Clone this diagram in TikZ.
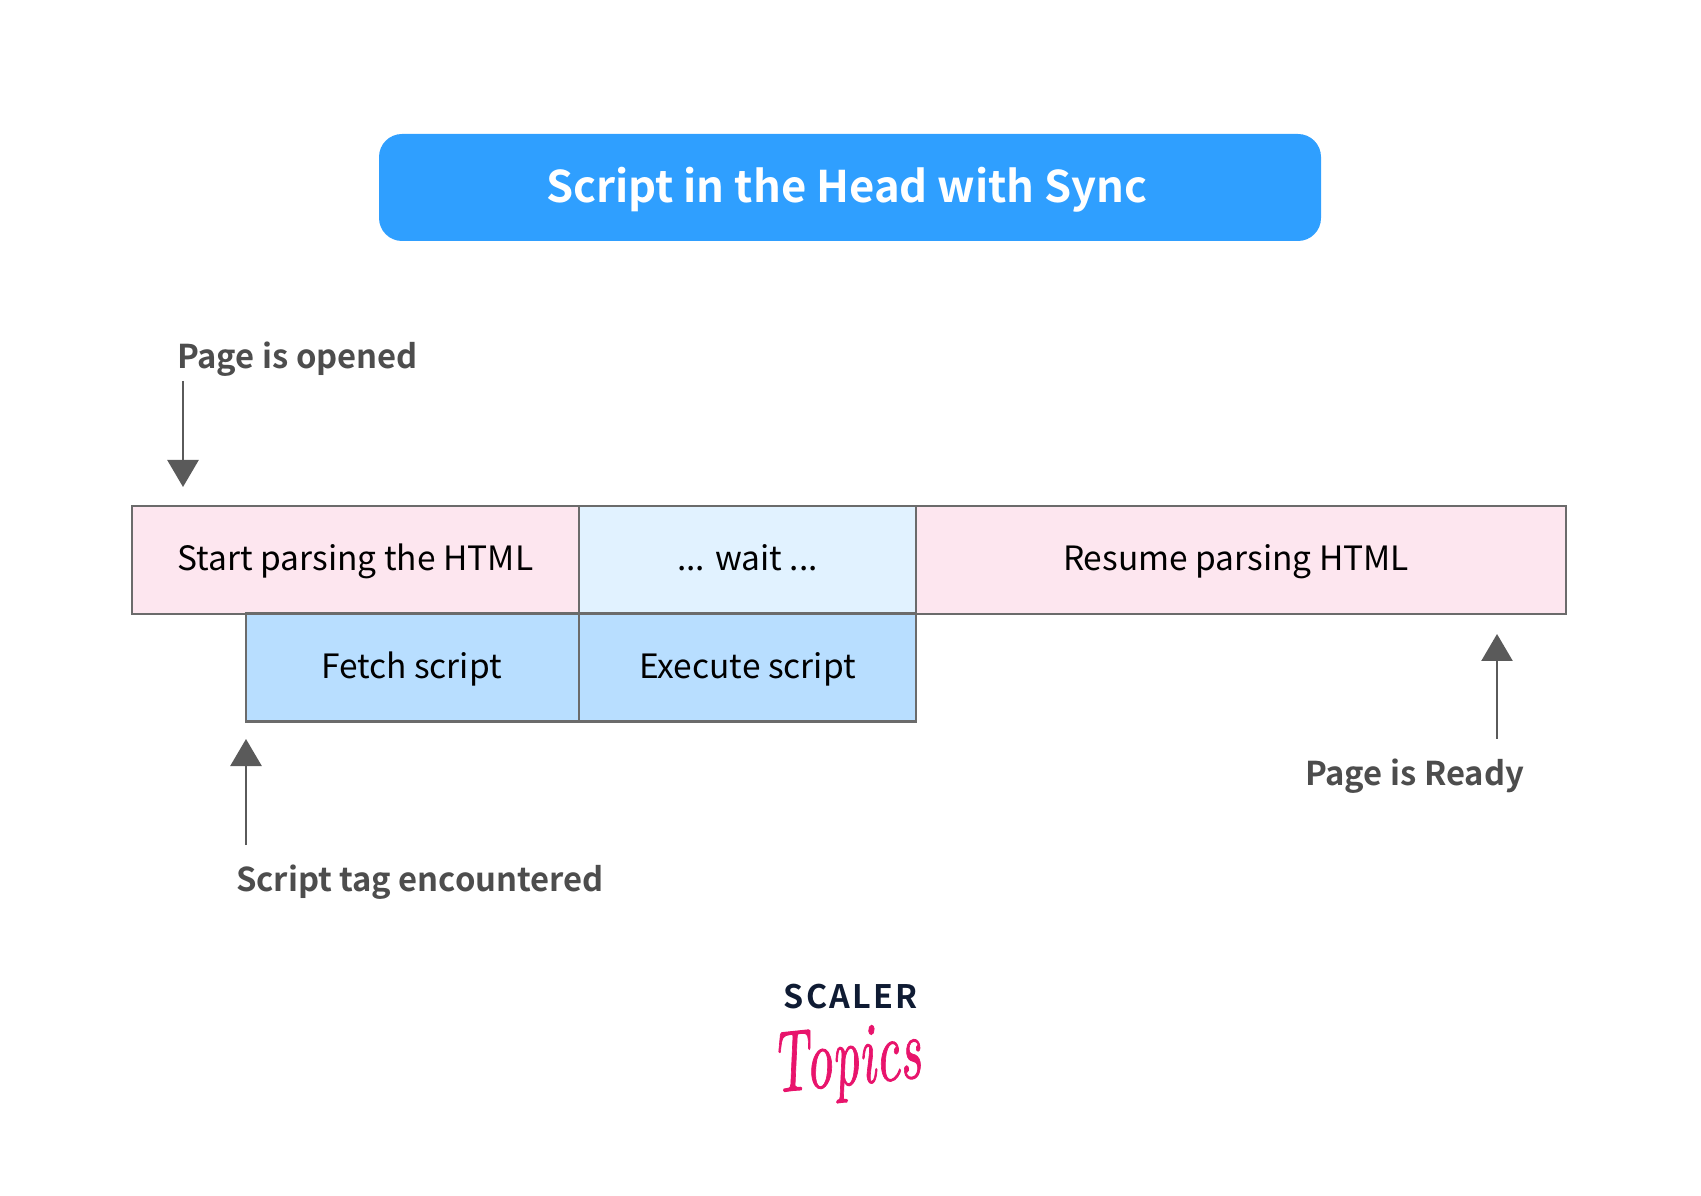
\documentclass[tikz,border=0pt]{standalone}
\usepackage{fontspec}
\setmainfont{Noto Sans CJK SC}[BoldFont={Noto Sans CJK SC Bold}]
\newfontfamily\logofont{lmroman10-italic.otf}[FakeBold=1.2]
\usetikzlibrary{arrows.meta,positioning}
\definecolor{sctitle}{HTML}{2F9FFF}
\definecolor{scpink}{HTML}{FDE6EF}
\definecolor{scpale}{HTML}{E1F2FF}
\definecolor{scblue}{HTML}{B8DEFF}
\definecolor{scgray}{HTML}{5A5A5A}
\definecolor{scedge}{HTML}{6B6B6B}
\definecolor{sclabel}{HTML}{4D4D4D}
\definecolor{scnavy}{HTML}{0F1B33}
\definecolor{scrose}{HTML}{E8146C}

\begin{document}
\begin{tikzpicture}[
  every node/.style={inner sep=0pt,outer sep=0pt},
  titlebox/.style={rounded corners=0.23cm,minimum width=9.42cm,minimum height=1.07cm,
                   fill=sctitle,text=white,text height=11pt,text depth=2.6pt,
                   font=\bfseries\fontsize{12.4pt}{16pt}\selectfont},
  rowbox/.style={draw=scedge,line width=0.6pt,minimum height=1.08cm,text=black,
                 text height=8.5pt,text depth=2.4pt,font=\fontsize{9.53pt}{12pt}\selectfont},
  note/.style={text=sclabel,font=\bfseries\fontsize{9.33pt}{12pt}\selectfont},
  arr/.style={-{Triangle[length=0.27cm,width=0.31cm]},line width=0.75pt,scgray},
]
  \useasboundingbox (0,0) rectangle (17.01,11.95);

  % Title
  \node[titlebox] (title) at (8.50,10.075) {\hspace*{-0.06cm}Script in the Head with Sync};

  % Top row
  \node[rowbox,fill=scpink,minimum width=4.47cm] (parse) at (3.555,6.35) {Start parsing the HTML};
  \node[rowbox,fill=scpale,minimum width=3.37cm] (wait) at (7.475,6.35) {... wait ...};
  \node[rowbox,fill=scpink,minimum width=6.50cm] (resume) at (12.41,6.35) {\hspace*{-0.1cm}Resume parsing HTML};

  % Bottom row
  \node[rowbox,fill=scblue,minimum width=3.33cm] (fetch) at (4.125,5.275) {\hspace*{-0.02cm}Fetch script};
  \node[rowbox,fill=scblue,minimum width=3.37cm] (exec) at (7.475,5.275) {Execute script};

  % Annotations
  \node[note,anchor=west] (opened) at (1.77,8.36) {Page is opened};
  \node[note,anchor=west] (tag) at (2.36,3.13) {Script tag encountered};
  \node[note,anchor=west] (ready) at (13.05,4.19) {Page is Ready};

  \coordinate (openedtail) at (1.83,8.14);
  \coordinate (openedtip) at (1.83,7.08);
  \coordinate (tagtail) at (2.46,3.50);
  \coordinate (tagtip) at (2.46,4.56);
  \coordinate (readytail) at (14.97,4.56);
  \coordinate (readytip) at (14.97,5.61);

  \draw[arr] (openedtail) -- (openedtip);
  \draw[arr] (tagtail) -- (tagtip);
  \draw[arr] (readytail) -- (readytip);

  % Logo
  \node[font=\bfseries\fontsize{9.2pt}{10pt}\selectfont,text=scnavy] (scaler) at (8.51,1.98) {\addfontfeatures{LetterSpace=7}SCALER};
  \node[font=\logofont\fontsize{15pt}{18pt}\selectfont,text=scrose,rotate=6,yscale=1.65,transform shape,below=0.16cm of scaler,xshift=-0.09cm] (topics) {Topics};
\end{tikzpicture}
\end{document}
